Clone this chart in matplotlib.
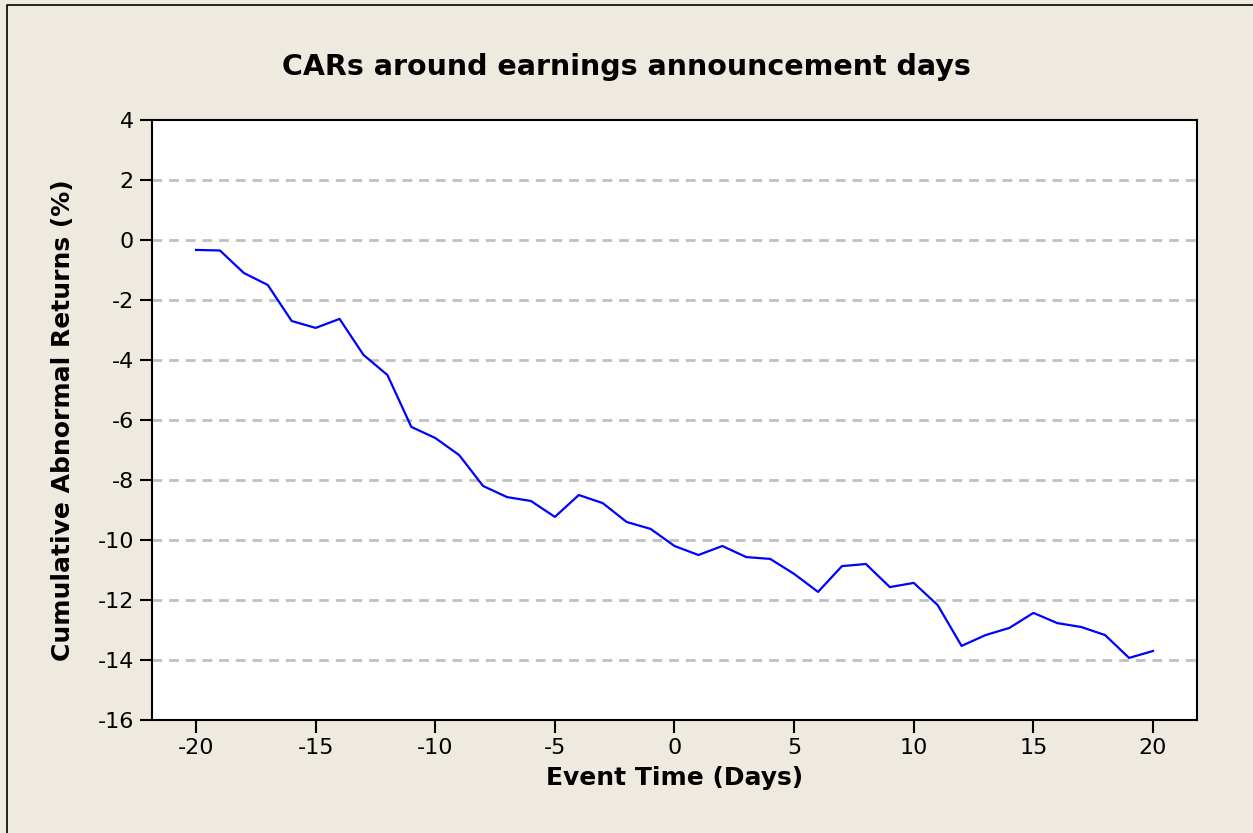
import matplotlib.pyplot as plt

plt.rcParams["axes.unicode_minus"] = False

# event window and cumulative abnormal returns (%)
days = list(range(-20, 21))
car = [-0.33, -0.35, -1.1, -1.5, -2.7, -2.93, -2.63, -3.83, -4.5, -6.23,
       -6.6, -7.17, -8.2, -8.57, -8.7, -9.23, -8.5, -8.77, -9.4, -9.63,
       -10.2, -10.5, -10.2, -10.57, -10.63, -11.13, -11.73, -10.87, -10.8, -11.57,
       -11.43, -12.17, -13.53, -13.17, -12.93, -12.43, -12.77, -12.9, -13.17, -13.93,
       -13.7]

xticks = [-20, -15, -10, -5, 0, 5, 10, 15, 20]
yticks = [4, 2, 0, -2, -4, -6, -8, -10, -12, -14, -16]

bg = "#eeeae0"

fig = plt.figure(figsize=(12.53, 8.33), dpi=100, facecolor=bg)
ax = fig.add_axes([152 / 1253, 1 - 720 / 833, 1045 / 1253, 600 / 833])

# gray dashed reference lines, skipping the frame edges
for y in yticks[1:-1]:
    ax.axhline(y, color="#c0c0c0", lw=2, ls=(0, (3.5, 2.5)), zorder=1)

ax.plot(days, car, color="#0000ff", lw=1.6, zorder=3)

ax.set_xlim(-21.84, 21.84)
ax.set_ylim(-16, 4)
ax.set_xticks(xticks)
ax.set_yticks(yticks)
ax.tick_params(direction="out", length=9, width=1.5, labelsize=16, pad=4)
for s in ax.spines.values():
    s.set_linewidth(1.5)

# title is centred on the whole figure, not the axes
fig.text(0.5, 1 - 75 / 833, "CARs around earnings announcement days",
         fontsize=20.5, fontweight="bold", ha="center", va="baseline")
ax.set_xlabel("Event Time (Days)", fontsize=18, fontweight="bold", labelpad=6)
ax.set_ylabel("Cumulative Abnormal Returns (%)", fontsize=18,
              fontweight="bold", labelpad=16)

# outer frame, only left and top edges are visible in the original
fig.add_artist(plt.Line2D([7 / 1253, 7 / 1253, 1], [0, 1 - 5 / 833, 1 - 5 / 833],
                          transform=fig.transFigure, color="black", lw=1.2))

fig.savefig("out.png", dpi=100, facecolor=bg)
